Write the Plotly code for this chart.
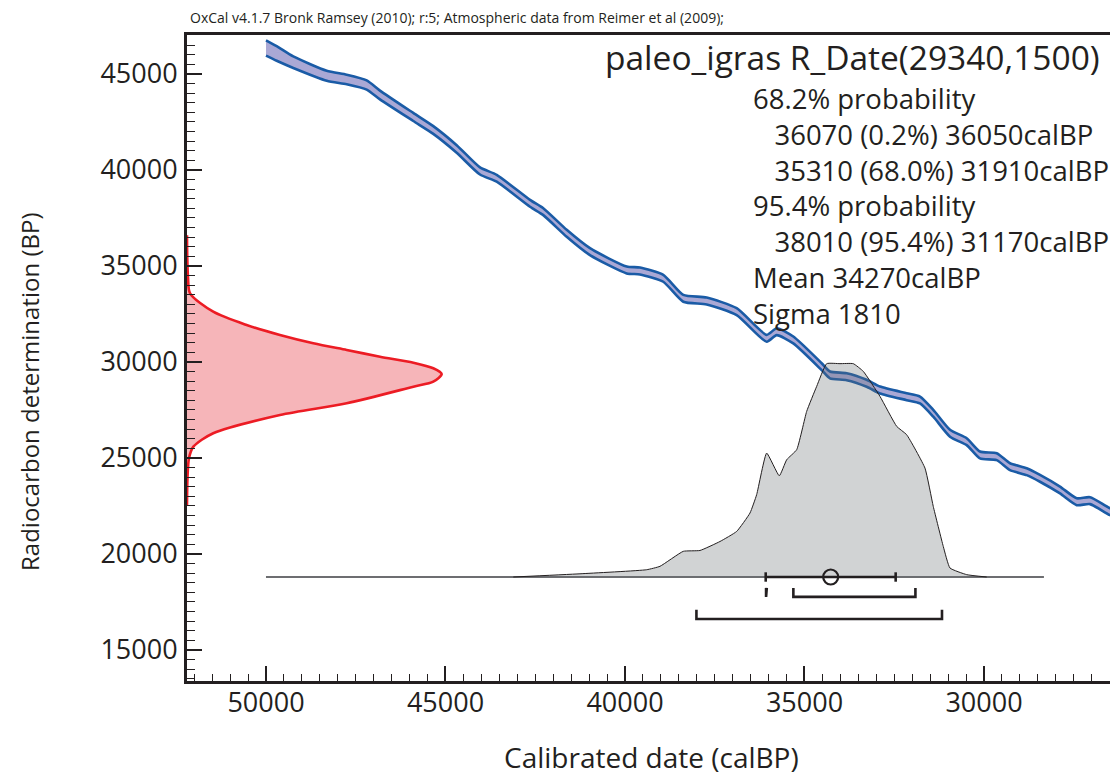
import plotly.graph_objects as go

# ---------------- data ----------------
# calibration curve (cal BP, 14C BP, 1-sigma in 14C years)
curve_cal = [50000, 49702, 49240, 48309, 47752, 47195, 46825, 45897, 45340, 44688,
             44039, 43574, 42646, 42276, 41624, 40975, 39953, 39582, 38933, 38376,
             37724, 36889, 36053, 35775, 35312, 34521, 34290, 33825, 33268, 32897,
             32154, 31783, 31412, 30947, 30482, 30112, 29647, 29276, 28811, 28440,
             27883, 27418, 27047, 26490, 26200]
curve_c14 = [46354, 46068, 45615, 44906, 44714, 44427, 43906, 42760, 42083, 41094,
             39948, 39568, 38266, 37828, 36703, 35745, 34792, 34740, 34359, 33318,
             33177, 32620, 31234, 31578, 31146, 29755, 29323, 29234, 28891, 28542,
             28193, 28021, 27328, 26287, 25849, 25156, 25068, 24547, 24286, 23943,
             23333, 22724, 22776, 22204, 22050]
curve_sigma = [400, 380, 300, 260, 250, 240, 230, 210, 200, 195,
               185, 180, 180, 180, 180, 180, 180, 180, 180, 180,
               180, 180, 180, 180, 180, 180, 180, 180, 180, 180,
               180, 180, 180, 180, 180, 180, 180, 180, 180, 180,
               180, 180, 180, 180, 180]

# radiocarbon determination R_Date(29340,1500): 14C BP vs relative probability
rdate_c14 = [36600, 35500, 34400, 33579, 32620, 31928, 31407, 30975, 30625, 30276,
             29964, 29673, 29375, 28975, 28714, 27849, 27240, 26287, 25589, 25000,
             24000, 22550]
rdate_prob = [0.0, 0.001, 0.004, 0.012, 0.103, 0.234, 0.365, 0.496, 0.627, 0.758,
              0.889, 0.967, 1.0, 0.967, 0.889, 0.627, 0.365, 0.103, 0.025, 0.008,
              0.002, 0.0]

# calibrated (posterior) distribution: cal BP vs relative probability
post_cal = [43111, 41254, 39396, 39025, 38376, 37911, 37354, 36889, 36518, 36332,
            36053, 35702, 35496, 35217, 34939, 34660, 34382, 34011, 33641, 33362,
            32897, 32432, 32154, 31644, 31413, 31134, 30947, 30482, 29925]
post_prob = [0.0, 0.015, 0.034, 0.050, 0.120, 0.124, 0.166, 0.213, 0.299, 0.385,
             0.579, 0.473, 0.548, 0.595, 0.774, 0.891, 0.997, 0.997, 0.997, 0.961,
             0.844, 0.704, 0.665, 0.509, 0.330, 0.143, 0.042, 0.011, 0.0]

baseline_cal = [50000, 28330]
mean_cal = 34270
sigma_cal = 1810
range68 = [(36070, 36050), (35310, 31910)]
range95 = [(38010, 31170)]

header = "OxCal v4.1.7 Bronk Ramsey (2010); r:5; Atmospheric data from Reimer et al (2009);"
title = "paleo_igras R_Date(29340,1500)"
info_lines = [
    ("68.2% probability", 0),
    ("36070 (0.2%) 36050calBP", 1),
    ("35310 (68.0%) 31910calBP", 1),
    ("95.4% probability", 0),
    ("38010 (95.4%) 31170calBP", 1),
    ("Mean 34270calBP", 0),
    ("Sigma 1810", 0),
]
x_title = "Calibrated date (calBP)"
y_title = "Radiocarbon determination (BP)"

# ---------------- figure ----------------
INK = "#231f20"
FONT = "Open Sans"
XR = [52200, 26490]
fig = go.Figure()

# calibration band
upper = [c + s for c, s in zip(curve_c14, curve_sigma)]
lower = [c - s for c, s in zip(curve_c14, curve_sigma)]
fig.add_trace(go.Scatter(
    x=curve_cal + curve_cal[::-1], y=upper + lower[::-1],
    mode="lines", fill="toself", fillcolor="#aaa8d5",
    line=dict(color="#1a5ba6", width=2.6, shape="spline", smoothing=0.6),
    hoverinfo="skip", showlegend=False))

# radiocarbon date on the y axis (secondary x for relative probability)
fig.add_trace(go.Scatter(
    x=rdate_prob, y=rdate_c14, xaxis="x2", yaxis="y",
    mode="lines", fill="toself", fillcolor="#f6b5b9",
    line=dict(color="#ec1c24", width=2.6, shape="spline", smoothing=0.8),
    hoverinfo="skip", showlegend=False))

# baseline of posterior
fig.add_trace(go.Scatter(
    x=baseline_cal, y=[0, 0], xaxis="x", yaxis="y2", mode="lines",
    line=dict(color="#6d6e71", width=1.8), hoverinfo="skip", showlegend=False))

# posterior distribution
fig.add_trace(go.Scatter(
    x=post_cal, y=post_prob, xaxis="x", yaxis="y2",
    mode="lines", fill="toself", fillcolor="rgba(102,108,112,0.3)",
    line=dict(color="#231f20", width=1, shape="spline", smoothing=0.4),
    hoverinfo="skip", showlegend=False))

# mean +- sigma bar (drawn on x3, same scale as x, which carries the tick labels)
lo, hi = mean_cal + sigma_cal, mean_cal - sigma_cal
tk = 0.022
fig.add_trace(go.Scatter(
    x=[lo, hi, None, lo, lo, None, hi, hi],
    y=[0, 0, None, -tk, tk, None, -tk, tk], xaxis="x3", yaxis="y2",
    mode="lines", line=dict(color=INK, width=2.6), hoverinfo="skip", showlegend=False))
fig.add_trace(go.Scatter(
    x=[mean_cal], y=[0], xaxis="x3", yaxis="y2", mode="markers",
    marker=dict(symbol="circle-open", size=15, color=INK, line=dict(color=INK, width=2.2)),
    hoverinfo="skip", showlegend=False))

# probability range brackets
def brackets(ranges, top, bot):
    xs, ys = [], []
    for a, b in ranges:
        xs += [a, a, b, b, None]
        ys += [top, bot, bot, top, None]
    return xs, ys

for rng, (t, b) in [(range68, (-0.051, -0.093)), (range95, (-0.153, -0.196))]:
    bx, by = brackets(rng, t, b)
    fig.add_trace(go.Scatter(
        x=bx, y=by, xaxis="x3", yaxis="y2", mode="lines",
        line=dict(color=INK, width=2.6), hoverinfo="skip", showlegend=False))

# ---------------- layout ----------------
axis_font = dict(family=FONT, size=27, color=INK)
fig.update_layout(
    width=1110, height=775,
    margin=dict(l=187, r=0, t=35, b=94),
    paper_bgcolor="white", plot_bgcolor="white",
    font=dict(family=FONT, color=INK),
    showlegend=False,
    xaxis=dict(range=XR, tickmode="linear", tick0=0, dtick=5000,
               showticklabels=False,
               ticks="inside", ticklen=15, tickwidth=2, tickcolor=INK,
               minor=dict(dtick=500, ticks="inside", ticklen=7, tickwidth=1.3, tickcolor=INK),
               showline=True, linecolor=INK, linewidth=3, mirror=True,
               showgrid=False, zeroline=False),
    xaxis3=dict(range=XR, overlaying="x", anchor="free", position=0.0,
                tickmode="linear", tick0=0, dtick=5000, tickformat="d",
                ticks="", showline=False, showgrid=False, zeroline=False,
                tickfont=axis_font, ticklabelstandoff=3),
    yaxis=dict(range=[13385, 47030], tickmode="linear", tick0=0, dtick=5000,
               tickformat="d",
               ticks="inside", ticklen=15, tickwidth=2, tickcolor=INK,
               minor=dict(dtick=500, ticks="inside", ticklen=8, tickwidth=1.3, tickcolor=INK),
               showline=True, linecolor=INK, linewidth=3,
               showgrid=False, zeroline=False, tickfont=axis_font, ticklabelstandoff=1),
    xaxis2=dict(overlaying="x", range=[0, 3.624], visible=False, fixedrange=True),
    yaxis2=dict(overlaying="y", range=[-0.486, 2.533], visible=False, fixedrange=True),
)

ann = []
ann.append(dict(text=header, xref="paper", yref="paper", x=0.001, y=(681 - 18) / 646,
                xanchor="left", yanchor="middle", showarrow=False,
                font=dict(family=FONT, size=14, color=INK)))
ann.append(dict(text=title, xref="paper", yref="paper", x=(1101 - 187) / 923, y=(681 - 57) / 646,
                xanchor="right", yanchor="middle", showarrow=False, borderpad=0,
                font=dict(family=FONT, size=33.5, color=INK)))
NB = "\u00a0"
block = "<br>".join((NB * 3 if ind else "") + txt for txt, ind in info_lines)
ann.append(dict(text=block, xref="paper", yref="paper", x=(752 - 187) / 923,
                y=(681 - 79) / 646, xanchor="left", yanchor="top", align="left",
                showarrow=False, borderpad=0, font=dict(family=FONT, size=27.5, color=INK)))
ann.append(dict(text=x_title, xref="paper", yref="paper",
                x=(651 - 187) / 923, y=(681 - 757) / 646, xanchor="center", yanchor="middle",
                showarrow=False, font=dict(family=FONT, size=28, color=INK)))
ann.append(dict(text=y_title, xref="paper", yref="paper",
                x=(30 - 187) / 923, y=(681 - 392) / 646, xanchor="center", yanchor="middle",
                textangle=-90, showarrow=False, font=dict(family=FONT, size=24, color=INK)))
fig.update_layout(annotations=ann)

fig.write_html("out.html")
